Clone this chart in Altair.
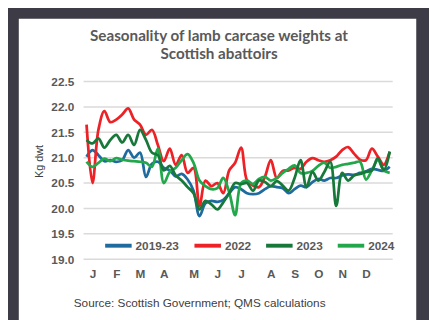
import json
import altair as alt
import pandas as pd

# ---------------- data ----------------
weeks = list(range(1, 53))
series_names = ["2019-23", "2022", "2023", "2024"]
series_colors = ["#1f6a9e", "#ec2227", "#17783a", "#22a84b"]

avg_2019_23 = [21.02, 21.15, 21.05, 20.93, 20.95, 20.92, 20.95, 21.15, 21.00, 21.10,
               20.62, 20.88, 20.92, 20.80, 20.75, 20.63, 20.68, 20.57, 20.35, 19.85,
               20.10, 20.15, 20.13, 20.17, 20.30, 20.42, 20.38, 20.30, 20.28, 20.30,
               20.38, 20.44, 20.42, 20.40, 20.30, 20.38, 20.45, 20.42, 20.52, 20.58,
               20.55, 20.60, 20.60, 20.65, 20.67, 20.66, 20.70, 20.73, 20.78, 20.76,
               20.74, 20.82]
y2022 = [21.65, 20.50, 21.55, 21.92, 21.70, 21.75, 21.85, 21.97, 21.75, 21.65,
         21.45, 21.55, 21.25, 20.93, 21.18, 20.86, 21.05, 20.70, 20.80, 20.05,
         20.55, 20.44, 20.50, 20.30, 20.75, 20.90, 21.20, 20.55, 20.45, 20.42,
         20.62, 20.95, 20.60, 20.74, 20.75, 20.80, 20.78, 20.92, 20.99, 20.95,
         20.92, 20.95, 21.02, 21.15, 21.21, 21.08, 20.96, 20.95, 21.18, 21.02,
         20.86, 21.12]
y2023 = [21.35, 21.28, 21.38, 21.20, 21.35, 21.45, 21.30, 21.45, 21.25, 21.55,
         21.35, 21.10, 21.05, 20.75, 20.84, 20.65, 20.55, 20.42, 20.30, 19.98,
         20.15, 20.08, 19.98, 20.12, 20.30, 20.50, 20.48, 20.50, 20.35, 20.55,
         20.52, 20.44, 20.54, 20.45, 20.35, 20.60, 20.95, 20.42, 20.72, 20.55,
         20.72, 20.92, 20.05, 20.70, 20.55, 20.65, 20.68, 20.72, 20.75, 20.99,
         20.76, 21.12]
y2024 = [20.92, 20.82, 20.90, 20.98, 20.93, 20.99, 20.96, 20.94, 20.93, 20.92,
         20.90, 20.82, 21.18, 20.50, 20.72, 20.80, 20.95, 21.07, 20.90, 20.55,
         20.44, 20.38, 20.40, 20.60, 20.32, 19.87, 20.50, 20.55, 20.48, 20.58,
         20.62, 20.55, 20.60, 20.70, 20.78, 20.85, 20.70, 20.70, 20.74, 20.84,
         20.90, 20.80, 20.82, 20.86, 20.88, 20.90, 20.92, 20.57, 20.75, 20.95,
         20.75, 20.70]

month_labels = ["J", "F", "M", "A", "M", "J", "J", "A", "S", "O", "N", "D"]
month_weeks = [2, 6, 10, 14, 19, 23, 27, 32, 36, 40, 44, 48]
y_ticks = [19.0, 19.5, 20.0, 20.5, 21.0, 21.5, 22.0, 22.5]

title_lines = ["Seasonality of lamb carcase weights at", "Scottish abattoirs"]
source_text = "Source: Scottish Government; QMS calculations"
y_title = "Kg dwt"

# ---------------- tables ----------------
draw_order = ["2019-23", "2022", "2024", "2023"]
values = {"2019-23": avg_2019_23, "2022": y2022, "2023": y2023, "2024": y2024}
rows = []
for i, name in enumerate(draw_order):
    for w, v in zip(weeks, values[name]):
        rows.append({"week": w, "kg": v, "series": name, "ord": i})
df = pd.DataFrame(rows)

W, H = 315, 181
LABEL_GRAY = "#595959"
FONT = "Liberation Sans"

yscale = alt.Scale(domain=[19.0, 22.5], nice=False, zero=False)
xscale = alt.Scale(domain=[0.5, 52.5], nice=False, zero=False)

label_expr = "{}[indexof({}, datum.value)]".format(json.dumps(month_labels), json.dumps(month_weeks))

y_axis = alt.Axis(
    values=y_ticks, format=".1f", grid=False, ticks=False, domain=False,
    labelFont=FONT, labelFontWeight="bold", labelFontSize=12, labelColor=LABEL_GRAY,
    labelPadding=10, title=y_title, titleFont=FONT, titleFontWeight="normal",
    titleFontSize=11, titleColor="#404040", titleX=-45, titleY=81, titleAngle=270,
    titleAlign="center", titleBaseline="middle", zindex=1)

x_axis = alt.Axis(
    values=month_weeks, labelExpr=label_expr, title=None, grid=False, ticks=False,
    domain=False, labelFont=FONT, labelFontWeight="bold", labelFontSize=12,
    labelColor=LABEL_GRAY, labelPadding=10, labelFlush=False, labelOverlap=False,
    zindex=1)

card = alt.Chart(pd.DataFrame({"a": [0]})).mark_rect(color="white").encode(
    x=alt.value(-66), x2=alt.value(339), y=alt.value(-64), y2=alt.value(250)
)

grid = alt.Chart(pd.DataFrame({"v": y_ticks})).mark_rule(
    color="#dadada", strokeWidth=1.5
).encode(
    y=alt.Y("v:Q", scale=yscale, axis=y_axis),
    x=alt.value(0), x2=alt.value(W),
)

lines = alt.Chart(df).mark_line(strokeWidth=2.8, interpolate="catmull-rom").encode(
    x=alt.X("week:Q", scale=xscale, axis=x_axis),
    y=alt.Y("kg:Q", scale=yscale, axis=y_axis),
    color=alt.Color("series:N", scale=alt.Scale(domain=series_names, range=series_colors),
                    legend=alt.Legend(
                        title=None, orient="none", legendX=20, legendY=151.5,
                        direction="horizontal", symbolType="stroke", symbolSize=729,
                        symbolStrokeWidth=4, labelFont=FONT, labelFontWeight="bold",
                        labelFontSize=12, labelColor=LABEL_GRAY, labelOffset=2,
                        columnPadding=7, padding=0)),
    order=alt.Order("ord:Q"),
    detail="series:N",
)

title_baselines = [-41, -23]
title_layers = [
    alt.Chart(pd.DataFrame({"t": [txt]})).mark_text(
        font="Lato", fontWeight="bold", fontSize=15.5, color=LABEL_GRAY, align="center",
        baseline="alphabetic"
    ).encode(text="t:N", x=alt.value(138), y=alt.value(yb))
    for txt, yb in zip(title_lines, title_baselines)
]

source_layer = alt.Chart(pd.DataFrame({"t": [source_text]})).mark_text(
    font=FONT, fontSize=12, color="#404040", align="left", baseline="alphabetic"
).encode(text="t:N", x=alt.value(-10), y=alt.value(230))

chart = alt.layer(card, grid, lines, *title_layers, source_layer).properties(
    width=W, height=H,
    padding={"left": 77, "top": 72, "right": 37, "bottom": 59},
    autosize=alt.AutoSizeParams(type="none"),
).configure(background="#3d3b46").configure_view(stroke=None)

chart.save("out.html", embed_options={"renderer": "svg", "actions": False})
